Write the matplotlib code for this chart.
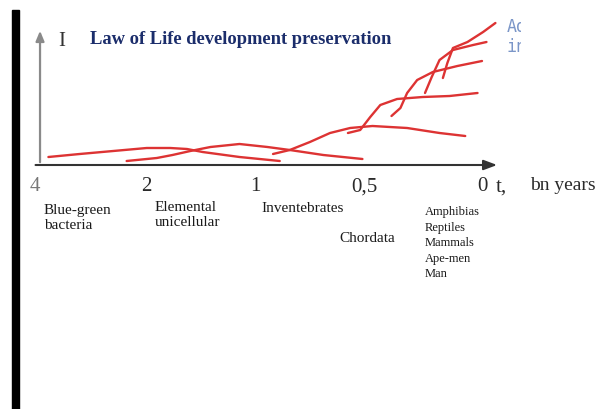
import matplotlib
matplotlib.use('Agg')
import matplotlib.pyplot as plt
from matplotlib.patches import Rectangle

# time axis is drawn with even spacing between the marked ages
tick_labels = ['4', '2', '1', '0,5', '0']
tick_pos = [0.0, 1.0, 1.97, 2.95, 4.0]

# red curves: (axis position, level I)
bacteria_x = [0.12, 0.40, 0.70, 1.00, 1.21, 1.36, 1.50, 1.83, 2.19]
bacteria_y = [0.08, 0.11, 0.14, 0.17, 0.17, 0.16, 0.13, 0.08, 0.04]
unicell_x = [0.82, 1.09, 1.23, 1.39, 1.57, 1.83, 2.08, 2.28, 2.58, 2.93]
unicell_y = [0.04, 0.07, 0.10, 0.14, 0.18, 0.21, 0.18, 0.15, 0.10, 0.06]
invert_x = [2.13, 2.28, 2.46, 2.64, 2.82, 3.02, 3.33, 3.62, 3.85]
invert_y = [0.11, 0.15, 0.23, 0.32, 0.37, 0.39, 0.37, 0.32, 0.29]
chord_x = [2.80, 2.91, 3.00, 3.09, 3.24, 3.47, 3.71, 3.96]
chord_y = [0.32, 0.35, 0.48, 0.60, 0.66, 0.68, 0.69, 0.72]
amph_x = [3.19, 3.27, 3.33, 3.42, 3.56, 3.78, 4.00]
amph_y = [0.49, 0.57, 0.72, 0.85, 0.93, 0.99, 1.04]
mamm_x = [3.49, 3.55, 3.62, 3.74, 3.92, 4.04]
mamm_y = [0.72, 0.88, 1.05, 1.15, 1.20, 1.23]
man_x = [3.65, 3.69, 3.74, 3.87, 4.01, 4.12]
man_y = [0.87, 1.02, 1.17, 1.23, 1.33, 1.42]

groups = ['Blue-green\nbacteria', 'Elemental\nunicellular', 'Inventebrates',
          'Chordata', 'Amphibias\nReptiles\nMammals\nApe-men\nMan']

serif = ['Liberation Serif', 'DejaVu Serif']

fig = plt.figure(figsize=(5.98, 4.09), dpi=100)
fig.patch.set_facecolor('white')

# black strip along the left edge
fig.patches.append(Rectangle((12 / 598, 0), 7 / 598, 399 / 409,
                             transform=fig.transFigure, color='black'))

ax = fig.add_axes([20 / 598, 1 - 350 / 409, 578 / 598, 350 / 409])
ax.set_xlim(-15 / 111.75, 563 / 111.75)
ax.set_ylim(-1.85, 1.65)
ax.axis('off')

# axes with arrows
ax.annotate('', xy=(4.16, 0), xytext=(-0.02, 0),
            arrowprops=dict(arrowstyle='-|>,head_length=0.8,head_width=0.3',
                            color='#333333', lw=1.5))
ax.annotate('', xy=(0.045, 1.37), xytext=(0.045, 0),
            arrowprops=dict(arrowstyle='-|>,head_length=0.6,head_width=0.25',
                            color='#8a8a8a', lw=1.6))

red = '#dd3333'
for xs, ys in [(bacteria_x, bacteria_y), (unicell_x, unicell_y),
               (invert_x, invert_y), (chord_x, chord_y), (amph_x, amph_y),
               (mamm_x, mamm_y), (man_x, man_y)]:
    ax.plot(xs, ys, color=red, lw=1.7, solid_joinstyle='round',
            solid_capstyle='round')

for lab, p in zip(tick_labels, tick_pos):
    ax.text(p, -0.22, lab, ha='center', va='center', fontsize=15,
            family=serif, color='#777777' if lab == '4' else '#2a2a2a')

ax.text(4.12, -0.22, 't,', ha='left', va='center', fontsize=15,
        family=serif, color='#2a2a2a')
ax.text(4.43, -0.21, 'bn years', ha='left', va='center', fontsize=14,
        family=serif, color='#2a2a2a')

ax.text(0.24, 1.24, 'I', ha='center', va='center', fontsize=15,
        family=serif, color='#333333')
ax.text(0.49, 1.25, 'Law of Life development preservation', ha='left',
        va='center', fontsize=13.3, fontweight='bold', family=serif,
        color='#1b2d6b')

group_pos = [(0.08, -0.39), (1.07, -0.36), (2.03, -0.37), (2.72, -0.67),
             (3.49, -0.41)]
for g, (gx, gy), fs, ls in zip(groups, group_pos, [11, 11, 11, 11, 9],
                                [1.2, 1.2, 1.2, 1.2, 1.4]):
    ax.text(gx, gy, g, ha='left', va='top', fontsize=fs, family=serif,
            color='#1a1a1a', linespacing=ls)

# cut-off side note at the right edge
clip = Rectangle((0, 0), 521 / 598, 1, transform=fig.transFigure)
for txt, yy in [('Ad', 1.38), ('in', 1.18)]:
    t = ax.text(4.22, yy, txt, ha='left', va='center', fontsize=12,
                family='DejaVu Sans Mono', color='#7b96c8')
    t.set_clip_on(True)
    t.set_clip_path(clip)

fig.savefig('out.png', dpi=100)
